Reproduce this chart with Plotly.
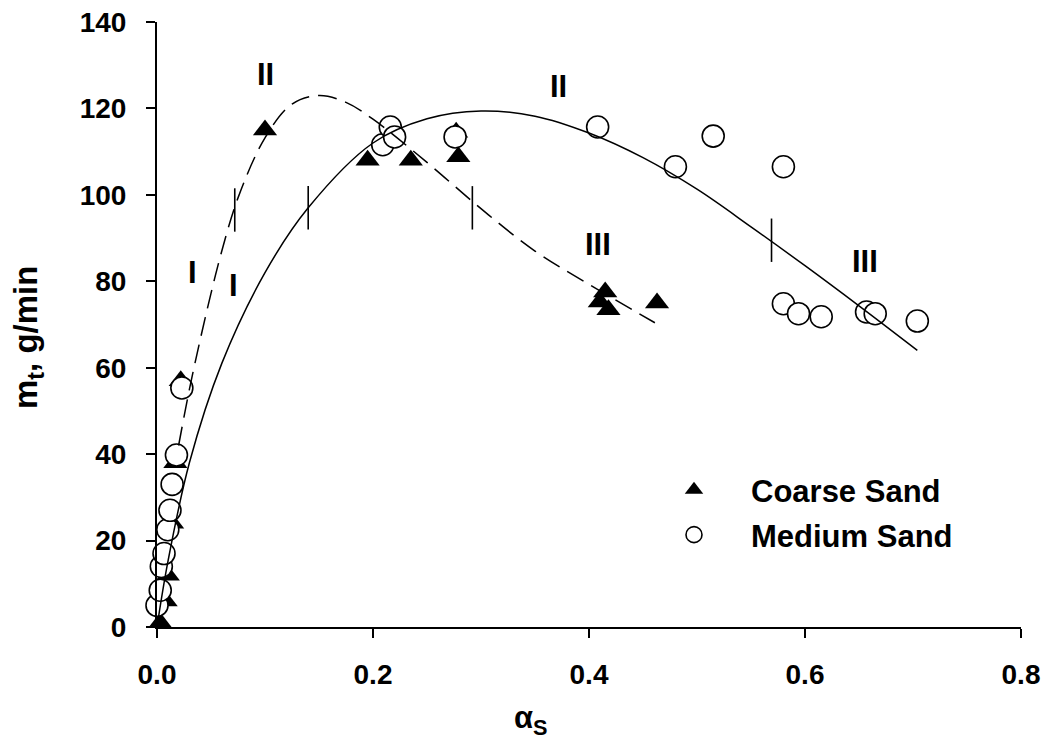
import plotly.graph_objects as go

# Data
coarse_x = [0.003, 0.008, 0.010, 0.014, 0.017, 0.022, 0.100, 0.195, 0.235, 0.277, 0.279, 0.410, 0.415, 0.418, 0.463]
coarse_y = [1.0, 6.0, 12.0, 24.0, 38.0, 57.0, 115.0, 108.0, 108.0, 114.5, 108.8, 75.2, 77.5, 73.4, 75.0]

medium_x = [0.000, 0.003, 0.004, 0.0065, 0.010, 0.012, 0.014, 0.018, 0.023, 0.209, 0.216, 0.220, 0.276,
            0.408, 0.480, 0.515, 0.580, 0.580, 0.594, 0.615, 0.657, 0.665, 0.704]
medium_y = [5.0, 8.5, 14.0, 17.0, 22.5, 27.0, 33.0, 39.8, 55.3, 111.6, 115.7, 113.4, 113.4,
            115.7, 106.5, 113.6, 106.5, 74.8, 72.5, 71.8, 72.9, 72.5, 70.8]

dash_curve_x = [0.020, 0.030, 0.040, 0.050, 0.060, 0.075, 0.100, 0.125, 0.150, 0.175, 0.200, 0.250,
                0.300, 0.350, 0.400, 0.461]
dash_curve_y = [42.0, 55.0, 66.5, 77.2, 87.0, 99.3, 113.2, 121.0, 123.0, 121.4, 117.5, 107.5,
                96.8, 87.0, 79.3, 70.4]

solid_curve_x = [0.000, 0.010, 0.030, 0.060, 0.100, 0.140, 0.200, 0.250, 0.300, 0.350, 0.400, 0.450,
                 0.500, 0.550, 0.600, 0.650, 0.704]
solid_curve_y = [0.0, 15.0, 38.0, 61.0, 82.0, 97.0, 112.0, 117.6, 119.4, 118.2, 114.3, 108.6,
                 101.3, 92.6, 83.6, 74.3, 64.0]

# regime boundary ticks
dash_bar_x = [0.072, 0.292]
dash_bar_y = [96.5, 97.0]
solid_bar_x = [0.140, 0.569]
solid_bar_y = [97.0, 89.5]

# regime labels
label_text = ["I", "I", "II", "II", "III", "III"]
label_x = [0.033, 0.071, 0.100, 0.372, 0.408, 0.656]
label_y = [82.0, 79.0, 127.8, 125.0, 88.4, 84.5]

y_ticks = [0, 20, 40, 60, 80, 100, 120, 140]
x_ticks = [0.0, 0.2, 0.4, 0.6, 0.8]

FONT = "Liberation Sans, Arial, sans-serif"

fig = go.Figure()

fig.add_trace(go.Scatter(
    x=coarse_x, y=coarse_y, mode="markers", name="<b>Coarse Sand</b>",
    marker=dict(symbol="triangle-up", size=21, color="black", line=dict(width=0)),
    cliponaxis=False, legend="legend"))

fig.add_trace(go.Scatter(
    x=medium_x, y=medium_y, mode="markers", name="<b>Medium Sand</b>",
    marker=dict(symbol="circle", size=22, color="white", line=dict(width=1.6, color="black")),
    cliponaxis=False, legend="legend2"))

fig.add_trace(go.Scatter(
    x=dash_curve_x, y=dash_curve_y, mode="lines", showlegend=False,
    line=dict(color="black", width=1.5, dash="19px,9px", shape="spline", smoothing=1.0)))

fig.add_trace(go.Scatter(
    x=solid_curve_x, y=solid_curve_y, mode="lines", showlegend=False,
    line=dict(color="black", width=1.5, shape="spline", smoothing=1.0)))

fig.add_trace(go.Scatter(
    x=dash_bar_x + solid_bar_x, y=dash_bar_y + solid_bar_y, mode="markers", showlegend=False,
    marker=dict(symbol="line-ns-open", size=31, color="black", line=dict(width=1.6, color="black"))))

for t, xx, yy in zip(label_text, label_x, label_y):
    fig.add_annotation(x=xx, y=yy, text=f"<b>{t}</b>", showarrow=False,
                       xanchor="center", yanchor="middle",
                       font=dict(family=FONT, size=31, color="black"))

# Axis titles
fig.add_annotation(xref="paper", yref="paper", x=(531 - 157) / 864, y=(627 - 720) / 605,
                   xanchor="center", yanchor="middle",
                   text="<b>α<sub>S</sub></b>", showarrow=False,
                   font=dict(family=FONT, size=31, color="black"))
fig.add_annotation(xref="paper", yref="paper", x=(28 - 157) / 864, y=(627 - 338) / 605,
                   xanchor="center", yanchor="middle",
                   text="<b>m<sub>t</sub>, g/min</b>", showarrow=False, textangle=-90,
                   font=dict(family=FONT, size=33, color="black"))

axis_common = dict(showgrid=False, zeroline=False, showline=True, linecolor="black", linewidth=2,
                   ticks="outside", ticklen=9, tickwidth=1.5, tickcolor="black", automargin=False,
                   tickfont=dict(family=FONT, size=28, color="black"))

fig.update_layout(
    width=1043, height=749,
    margin=dict(l=157, r=22, t=22, b=122, autoexpand=False),
    paper_bgcolor="white", plot_bgcolor="white",
    font=dict(family=FONT, color="black"),
    xaxis=dict(range=[0, 0.8], tickvals=x_ticks, ticktext=[f"<b>{v:.1f}</b>" for v in x_ticks],
               ticklabelstandoff=12, **axis_common),
    yaxis=dict(range=[0, 140], tickvals=y_ticks, ticktext=[f"<b>{v}</b>" for v in y_ticks],
               ticklabelstandoff=14, **axis_common),
    legend=dict(x=(637 - 157) / 864, y=(627 - 490) / 605, xanchor="left", yanchor="middle",
                bgcolor="rgba(0,0,0,0)", itemwidth=104,
                font=dict(family=FONT, size=31, color="black")),
    legend2=dict(x=(637 - 157) / 864, y=(627 - 535) / 605, xanchor="left", yanchor="middle",
                 bgcolor="rgba(0,0,0,0)", itemwidth=104,
                 font=dict(family=FONT, size=31, color="black")),
)

fig.write_html("out.html")
